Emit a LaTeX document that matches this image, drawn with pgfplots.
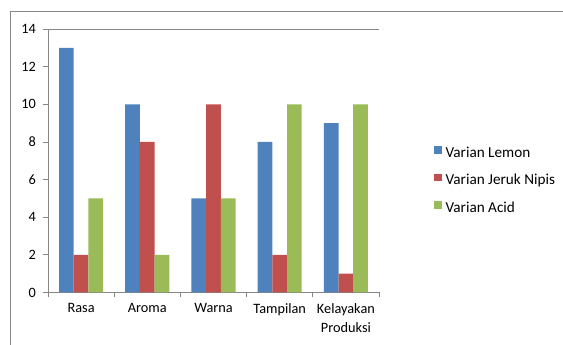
\documentclass[border=0pt]{standalone}
\usepackage{fontspec}
\setmainfont{Carlito}
\usepackage{pgfplots}
\pgfplotsset{compat=1.18}
\definecolor{axgray}{HTML}{868686}
\definecolor{cblue}{HTML}{4F81BD}
\definecolor{cred}{HTML}{C0504D}
\definecolor{cgreen}{HTML}{9BBB59}
\begin{document}
\begin{tikzpicture}[x=1pt,y=1pt]
\useasboundingbox (0,0) rectangle (563,345);
\draw[axgray, line width=1pt] (10,-2) -- (10,333) -- (566,333);
\begin{axis}[
  at={(48pt,52.5pt)}, anchor=south west,
  scale only axis, width=331pt, height=263.5pt,
  xmin=-0.5, xmax=4.5, ymin=0, ymax=14,
  ybar=0pt, bar width=14.7pt,
  axis lines*=left,
  axis line style={axgray, line width=0.8pt},
  xtick={-0.5,0.5,1.5,2.5,3.5,4.5},
  x tick label as interval,
  xticklabels={Rasa,Aroma,Warna,Tampilan,{Kelayakan\\Produksi}},
  ytick={0,2,...,14},
  tick align=outside, major tick length=5pt,
  tick style={axgray, line width=0.8pt},
  /pgf/number format/assume math mode=true,
  ticklabel style={font=\fontsize{14.3pt}{19.5pt}\selectfont, text=black},
  xticklabel style={align=center, yshift=-2.5pt},
  yticklabel style={xshift=-3.5pt},
  legend style={at={(1.1661,0.5560)}, anchor=north west, draw=none, inner sep=0pt,
    font=\fontsize{15.2pt}{17pt}\selectfont, row sep=13.5pt, column sep=0pt,
    nodes={inner sep=0pt, text height=10pt, text depth=3pt}},
  legend cell align=left,
  legend image code/.code={\fill[#1,draw=none] (0pt,0pt) rectangle (7.5pt,7.5pt);},
]
\draw[axgray, line width=0.8pt] (axis cs:-0.5,14) -- (axis cs:4.5,14);
\addplot[fill=cblue, draw=none] coordinates {(0,13) (1,10) (2,5) (3,8) (4,9)};
\addplot[fill=cred, draw=none] coordinates {(0,2) (1,8) (2,10) (3,2) (4,1)};
\addplot[fill=cgreen, draw=none] coordinates {(0,5) (1,2) (2,5) (3,10) (4,10)};
\legend{\hspace{4pt}Varian Lemon,\hspace{4pt}Varian Jeruk Nipis,\hspace{4pt}Varian Acid}
\end{axis}
\end{tikzpicture}
\end{document}
